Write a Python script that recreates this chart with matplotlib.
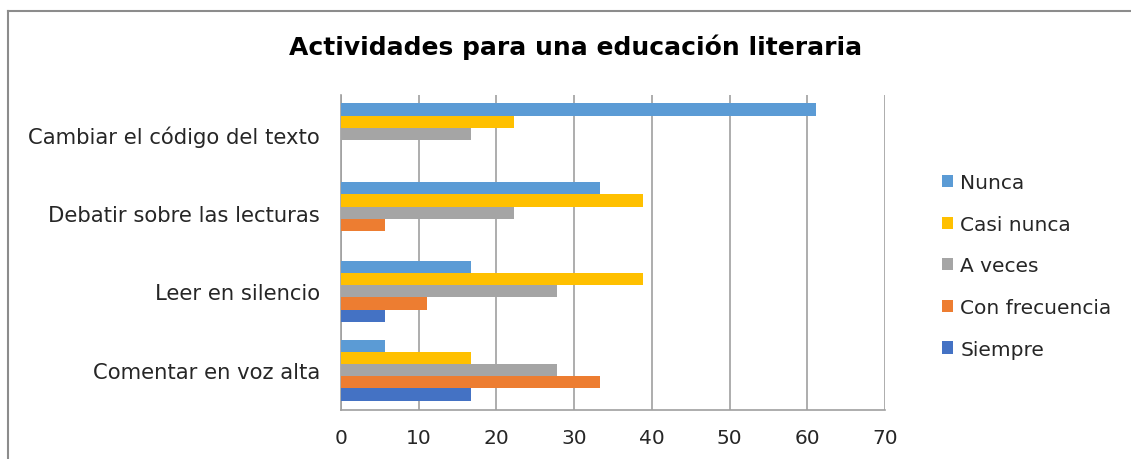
import matplotlib.pyplot as plt
from matplotlib.lines import Line2D
import numpy as np

# data (percentages)
categories = ["Comentar en voz alta", "Leer en silencio", "Debatir sobre las lecturas", "Cambiar el código del texto"]
series_names = ["Siempre", "Con frecuencia", "A veces", "Casi nunca", "Nunca"]
siempre = [16.7, 5.6, 0, 0]
con_frecuencia = [33.3, 11.1, 5.6, 0]
a_veces = [27.8, 27.8, 22.2, 16.7]
casi_nunca = [16.7, 38.9, 38.9, 22.2]
nunca = [5.6, 16.7, 33.3, 61.1]
colors = ["#4472C4", "#ED7D31", "#A5A5A5", "#FFC000", "#5B9BD5"]

plt.rcParams['font.family'] = ['DejaVu Sans']

fig = plt.figure(figsize=(11.31, 4.6), dpi=100)
ax = fig.add_axes([341/1131, 1 - 410.5/460, (885-341)/1131, (410.5-95.5)/460])

y = np.arange(len(categories))
h = 0.155
all_series = [siempre, con_frecuencia, a_veces, casi_nunca, nunca]
for i, vals in enumerate(all_series):
    ax.barh(y + (i - 2) * h, vals, height=h, color=colors[i], label=series_names[i], zorder=3)

ax.set_xlim(0, 70)
ax.set_ylim(-0.5, len(categories) - 0.5)
ax.set_xticks(range(0, 71, 10))
ax.set_yticks(y)
ax.set_yticklabels(categories, fontsize=15.2, color="#262626")
ax.tick_params(axis='x', labelsize=14.5, colors="#262626", length=0, pad=13)
ax.tick_params(axis='y', length=0, pad=15)
ax.grid(axis='x', color="#A0A0A0", linewidth=1.2, zorder=0)
for s in ['top', 'right']:
    ax.spines[s].set_visible(False)
ax.spines['left'].set_color("#A0A0A0")
ax.spines['bottom'].set_color("#A0A0A0")
ax.spines['left'].set_linewidth(1.2)
ax.spines['bottom'].set_linewidth(1.2)

fig.text(576/1131, 1 - 47/460, "Actividades para una educación literaria", ha='center', va='center',
         fontsize=18, fontweight='bold', color="black")

handles, labels = ax.get_legend_handles_labels()
leg = fig.legend(handles[::-1], labels[::-1], loc='center left', bbox_to_anchor=(924/1131, 1 - 267/460),
                 frameon=False, fontsize=14.5, handlelength=0.55, handleheight=0.55, handletextpad=0.35,
                 labelspacing=1.12, labelcolor="#262626")

# outer chart border (top and left edges visible)
fig.add_artist(Line2D([8/1131, 8/1131], [0, 1 - 11.5/460], transform=fig.transFigure, color="#8C8C8C", linewidth=1.5))
fig.add_artist(Line2D([8/1131, 1], [1 - 11.5/460, 1 - 11.5/460], transform=fig.transFigure, color="#8C8C8C", linewidth=1.5))

fig.savefig("out.png", dpi=100)
